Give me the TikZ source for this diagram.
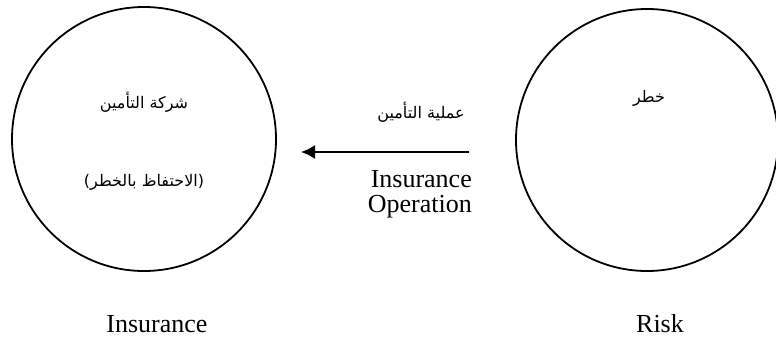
\documentclass[tikz,border=0pt]{standalone}
\usepackage{fontspec}
\setmainfont{Liberation Serif}
\newfontfamily\arabicfont[Script=Arabic]{DejaVu Sans}
\TeXXeTstate=1
\usetikzlibrary{arrows.meta}
\begin{document}
\begin{tikzpicture}[x=1pt,y=1pt,
  party/.style={draw,circle,line width=1.8pt,minimum size=#1,inner sep=0pt},
  latin/.style={font=\fontsize{26}{25}\selectfont,inner sep=0pt},
  arab/.style={font=\arabicfont\fontsize{16}{20}\selectfont,inner sep=0pt},
  flow/.style={line width=1.8pt,-{Latex[length=14pt,width=14pt]}}]
\useasboundingbox (0,0) rectangle (776,338);
\clip (0,0) rectangle (776,338);
% the two parties
\node[party=264pt] (ins) at (144,199) {};
\node[party=262pt] (risk) at (647,198) {};
% texts inside the circles
\node[arab] (insname) at (144,236) {\beginR شركة التأمين\endR};
\node[arab] (insrole) at (144,156) {\beginR (الاحتفاظ بالخطر)\endR};
\node[arab] (riskname) at (649,240) {\beginR خطر\endR};
% captions under the circles
\node[latin,anchor=base] (inscap) at (157,6) {Insurance};
\node[latin,anchor=base] (riskcap) at (660,6) {Risk};
% transfer arrow and its labels
\coordinate (from) at (469,186);
\coordinate (to) at (301,186);
\draw[flow] (from) -- (to);
\node[arab] (oparab) at (421,226) {\beginR عملية التأمين\endR};
\node[latin,anchor=base east] (op1) at (472,151) {Insurance};
\node[latin,anchor=base east] (op2) at (472,126) {Operation};
\end{tikzpicture}
\end{document}
